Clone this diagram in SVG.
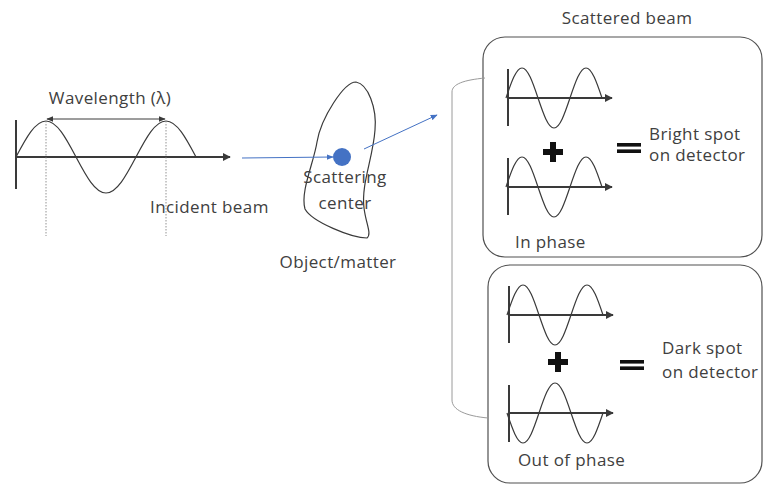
<svg xmlns="http://www.w3.org/2000/svg" width="765" height="485" viewBox="0 0 765 485">
  <style>
    .lbl { font-family: "Open Sans", "Liberation Sans", sans-serif; font-size: 17px; letter-spacing: 0.4px; fill: #404040; }
    .wave { fill: none; stroke: #3a3a3a; stroke-width: 1.2; }
    .axis { fill: none; stroke: #3a3a3a; stroke-width: 2; }
    .box { fill: none; stroke: #505050; stroke-width: 1.2; }
    .beam { fill: none; stroke: #4472C4; stroke-width: 1; }
  </style>
  <defs>
    <marker id="axisHead" viewBox="0 0 10 10" refX="9" refY="5" markerWidth="4" markerHeight="4" orient="auto">
      <path d="M0,0 L10,5 L0,10 Z" fill="#3a3a3a"/>
    </marker>
    <marker id="dimHead" viewBox="0 0 10 10" refX="9" refY="5" markerWidth="7" markerHeight="7" orient="auto-start-reverse">
      <path d="M0,1 L10,5 L0,9 Z" fill="#3a3a3a"/>
    </marker>
    <marker id="beamHead" viewBox="0 0 10 10" refX="9" refY="5" markerWidth="7" markerHeight="7" orient="auto">
      <path d="M0,1 L10,5 L0,9 Z" fill="#4472C4"/>
    </marker>
    <!-- one and a half periods of a sine, quarter period 16 px -->
    <path id="smallWave" class="wave" d="M0,0 C5.3,-15.7 10.2,-30 16,-30 C21.8,-30 26.7,-15.7 32,0 C37.3,15.7 42.2,30 48,30 C53.8,30 58.7,15.7 64,0 C69.3,-15.7 74.2,-30 80,-30 C85.8,-30 90.7,-15.7 96,0"/>
    <!-- small wave on its axis -->
    <g id="smallSignal">
      <line x1="0" y1="-29" x2="0" y2="28" stroke="#3a3a3a" stroke-width="2"/>
      <line x1="0" y1="0" x2="104" y2="0" class="axis" marker-end="url(#axisHead)"/>
      <use href="#smallWave" x="-2"/>
    </g>
    <g id="plus">
      <rect x="-10" y="-3" width="20" height="6" fill="#111"/>
      <rect x="-3" y="-10" width="6" height="20" fill="#111"/>
    </g>
    <g id="equals">
      <rect x="-12" y="-5" width="24" height="3.6" fill="#111"/>
      <rect x="-12" y="1.4" width="24" height="3.6" fill="#111"/>
    </g>
  </defs>

  <!-- incident wave -->
  <g id="incident-wave">
    <line x1="16" y1="120" x2="16" y2="189" stroke="#3a3a3a" stroke-width="2"/>
    <line x1="16" y1="157" x2="230" y2="157" class="axis" marker-end="url(#axisHead)"/>
    <path class="wave" transform="translate(16,157)" d="M0,0 C10,-18.85 19.2,-36 30,-36 C40.8,-36 50,-18.85 60,0 C70,18.85 79.2,36 90,36 C100.8,36 110,18.85 120,0 C130,-18.85 139.2,-36 150,-36 C160.8,-36 170,-18.85 180,0"/>
    <line x1="46" y1="121" x2="46" y2="236" stroke="#777" stroke-width="0.8" stroke-dasharray="1.5,1.5"/>
    <line x1="166" y1="121" x2="166" y2="236" stroke="#777" stroke-width="0.8" stroke-dasharray="1.5,1.5"/>
    <line x1="47" y1="119" x2="165" y2="119" stroke="#3a3a3a" stroke-width="1" marker-start="url(#dimHead)" marker-end="url(#dimHead)"/>
    <text class="lbl" x="110" y="104" text-anchor="middle">Wavelength (λ)</text>
    <text class="lbl" x="150" y="213">Incident beam</text>
  </g>

  <!-- object with scattering centre -->
  <g id="object">
    <path d="M356,82 C368,84 377,108 375,130 C373,158 361,184 364,208 C366,224 372,234 367,238 C352,238 312,222 305,209 C300,192 314,162 317,142 C321,118 344,82 356,82 Z" fill="none" stroke="#3a3a3a" stroke-width="1.2"/>
    <circle cx="342" cy="157" r="9" fill="#4472C4"/>
    <text class="lbl" x="345" y="183" text-anchor="middle">Scattering</text>
    <text class="lbl" x="345" y="209" text-anchor="middle">center</text>
    <text class="lbl" x="338" y="268" text-anchor="middle">Object/matter</text>
  </g>

  <!-- in-phase panel -->
  <g id="in-phase">
    <rect class="box" x="483" y="37" width="279" height="220" rx="22" ry="22"/>
    <use href="#smallSignal" x="508" y="98"/>
    <use href="#plus" x="553" y="152"/>
    <use href="#smallSignal" x="508" y="187"/>
    <use href="#equals" x="629" y="148"/>
    <text class="lbl" x="649" y="140">Bright spot</text>
    <text class="lbl" x="649" y="161">on detector</text>
    <text class="lbl" x="515" y="248">In phase</text>
  </g>

  <!-- out-of-phase panel -->
  <g id="out-of-phase">
    <rect class="box" x="488" y="265" width="274" height="218" rx="22" ry="22"/>
    <use href="#smallSignal" x="509" y="315"/>
    <use href="#plus" x="558" y="362"/>
    <g transform="translate(509,413) scale(1,-1)">
      <use href="#smallSignal"/>
    </g>
    <use href="#equals" x="632" y="365"/>
    <text class="lbl" x="662" y="354">Dark spot</text>
    <text class="lbl" x="662" y="378">on detector</text>
    <text class="lbl" x="518" y="466">Out of phase</text>
  </g>

  <text id="scattered-label" class="lbl" x="627" y="24" text-anchor="middle">Scattered beam</text>

  <!-- beams and bracket -->
  <g id="connectors">
    <line class="beam" x1="242" y1="158" x2="333" y2="157" marker-end="url(#beamHead)"/>
    <line class="beam" x1="364" y1="149" x2="437" y2="115" marker-end="url(#beamHead)"/>
    <path d="M485,78 C464,80 452,84 452,92 L452,400 C452,410 466,416 488,418" fill="none" stroke="#9a9a9a" stroke-width="1"/>
  </g>
</svg>
